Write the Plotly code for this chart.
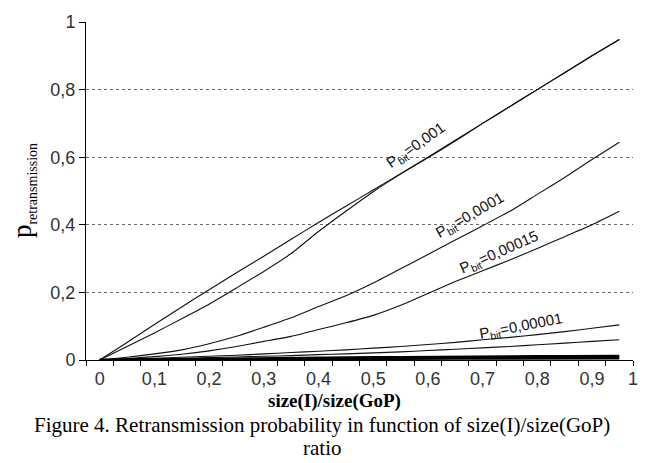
import plotly.graph_objects as go

# size(I)/size(GoP) categories
ratio = [0, 0.05, 0.1, 0.15, 0.2, 0.25, 0.3, 0.35, 0.4, 0.45,
         0.5, 0.55, 0.6, 0.65, 0.7, 0.75, 0.8, 0.85, 0.9, 0.95]

p_a = [0, 0.052, 0.105, 0.157, 0.208, 0.258, 0.307, 0.357, 0.407, 0.455,
       0.503, 0.551, 0.6, 0.65, 0.7, 0.75, 0.8, 0.85, 0.9, 0.948]
p_b = [0, 0.04, 0.08, 0.122, 0.165, 0.213, 0.262, 0.315, 0.38, 0.44,
       0.498, 0.55, 0.598, 0.648, 0.7, 0.75, 0.8, 0.85, 0.9, 0.948]
p_c = [0, 0.008, 0.018, 0.03, 0.048, 0.07, 0.097, 0.125, 0.158, 0.19,
       0.228, 0.27, 0.312, 0.355, 0.397, 0.44, 0.49, 0.54, 0.593, 0.644]
p_d = [0, 0.004, 0.01, 0.017, 0.027, 0.04, 0.055, 0.07, 0.09, 0.11,
       0.132, 0.162, 0.197, 0.232, 0.264, 0.296, 0.33, 0.365, 0.4, 0.44]
p_e = [0, 0.002, 0.005, 0.008, 0.011, 0.014, 0.018, 0.022, 0.026, 0.03,
       0.035, 0.04, 0.046, 0.052, 0.06, 0.067, 0.075, 0.084, 0.094, 0.104]
p_f = [0, 0.001, 0.003, 0.005, 0.007, 0.009, 0.011, 0.013, 0.016, 0.018,
       0.021, 0.024, 0.028, 0.032, 0.036, 0.04, 0.045, 0.05, 0.055, 0.06]
p_g = [0, 0.001, 0.002, 0.003, 0.004, 0.004, 0.005, 0.006, 0.006, 0.007,
       0.008, 0.008, 0.009, 0.009, 0.01, 0.01, 0.011, 0.011, 0.012, 0.012]
p_h = [0, 0.0005, 0.001, 0.0015, 0.002, 0.002, 0.0025, 0.003, 0.003, 0.0035,
       0.004, 0.004, 0.004, 0.0045, 0.0045, 0.005, 0.005, 0.005, 0.0055, 0.0055]

x_tick_vals = [0, 0.1, 0.2, 0.3, 0.4, 0.5, 0.6, 0.7, 0.8, 0.9, 0.975]
x_tick_text = ["0", "0,1", "0,2", "0,3", "0,4", "0,5", "0,6", "0,7", "0,8", "0,9", "1"]
y_tick_vals = [0, 0.2, 0.4, 0.6, 0.8, 1]
y_tick_text = ["0", "0,2", "0,4", "0,6", "0,8", "1"]

curve_labels = ["P<sub>bit</sub>=0,001", "P<sub>bit</sub>=0,0001",
                "P<sub>bit</sub>=0,00015", "P<sub>bit</sub>=0,00001"]
label_x = [0.578, 0.677, 0.730, 0.770]
label_y = [0.636, 0.428, 0.318, 0.098]
label_angle = [-35, -30, -24, -11]

fig = go.Figure()
thin = [p_a, p_b, p_c, p_d, p_e, p_f]
for s in thin:
    fig.add_trace(go.Scatter(x=ratio, y=s, mode="lines",
                             line=dict(color="#111111", width=1.1,
                                       shape="spline", smoothing=0.5),
                             showlegend=False, hoverinfo="skip"))
for s in [p_h, p_g]:
    fig.add_trace(go.Scatter(x=ratio, y=s, mode="lines",
                             line=dict(color="#000000", width=2.6),
                             showlegend=False, hoverinfo="skip"))

sans = "Arial, Liberation Sans, sans-serif"
serif = "Times New Roman, Liberation Serif, serif"

fig.update_layout(
    width=653, height=463,
    margin=dict(l=86, r=20, t=14, b=103),
    paper_bgcolor="white", plot_bgcolor="white",
    xaxis=dict(range=[-0.025, 0.975], tickmode="array",
               tickvals=x_tick_vals, ticktext=x_tick_text,
               ticks="outside", ticklen=2, tickcolor="rgba(0,0,0,0)",
               tickfont=dict(family=sans, size=18, color="#333333"),
               ticklabeloverflow="allow",
               showgrid=False, zeroline=False,
               showline=True, linecolor="black", linewidth=1,
               minor=dict(tick0=-0.025, dtick=0.05, ticks="outside",
                          ticklen=5, tickcolor="black", tickwidth=1,
                          showgrid=False)),
    yaxis=dict(range=[0, 1], tickmode="array",
               tickvals=y_tick_vals, ticktext=y_tick_text,
               ticks="outside", ticklen=6, tickcolor="black",
               tickfont=dict(family=sans, size=18, color="#333333"),
               showgrid=True, gridcolor="#666666", griddash="dot", gridwidth=1,
               zeroline=False, showline=True, linecolor="black", linewidth=1),
)

for t, lx, ly, ang in zip(curve_labels, label_x, label_y, label_angle):
    fig.add_annotation(x=lx, y=ly, xref="x", yref="y", text=t,
                       textangle=ang, showarrow=False,
                       xanchor="center", yanchor="middle",
                       font=dict(family=sans, size=15, color="#111111"))

# axis titles and caption
fig.add_annotation(xref="paper", yref="paper", x=-0.115, y=0.5,
                   xanchor="center", yanchor="middle",
                   text="p<sub><span style='font-size:14px'>retransmission</span></sub>",
                   textangle=-90, showarrow=False,
                   font=dict(family=serif, size=27, color="black"))
fig.add_annotation(xref="paper", yref="paper", x=0.455, y=-0.122,
                   xanchor="center", yanchor="middle",
                   text="<b>size(I)/size(GoP)</b>", showarrow=False,
                   font=dict(family=serif, size=19, color="black"))
fig.add_annotation(xref="paper", yref="paper", x=0.431, y=-0.1936,
                   xanchor="center", yanchor="middle",
                   text="Figure 4. Retransmission probability in function of size(I)/size(GoP)",
                   showarrow=False, font=dict(family=serif, size=21, color="black"))
fig.add_annotation(xref="paper", yref="paper", x=0.431, y=-0.26,
                   xanchor="center", yanchor="middle",
                   text="ratio", showarrow=False,
                   font=dict(family=serif, size=21, color="black"))

fig.write_html("out.html")
